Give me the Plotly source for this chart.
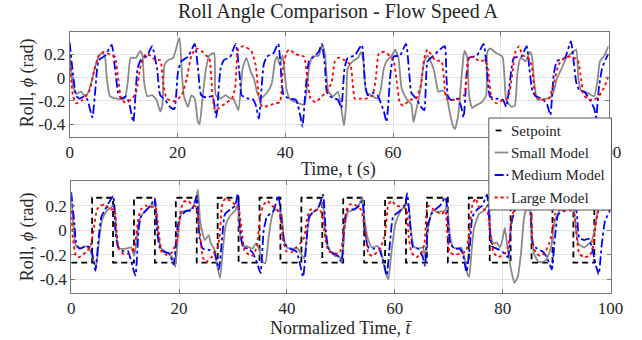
import plotly.graph_objects as go

# ---------------- data: top panel (time, s) ----------------
t_top_medium = [0, 1.2, 1.8, 2.7, 3.3, 4.2, 5.1, 5.4, 6.6, 7.8, 8.4, 9.0, 9.6, 10.5, 11.1, 11.8, 12.6, 13.2, 14.4, 15.3,
                16.2, 16.8, 17.7, 18.6, 19.4, 20.1, 20.7, 21.96, 23.2, 23.8, 24.4, 25.3, 26.5, 27.2, 28.0, 28.6, 29.8, 30.8,
                31.6, 31.9, 33.1, 33.9, 34.5, 35.1, 36.0, 36.6, 37.8, 38.7, 39.3, 39.7, 40.8, 42.0, 42.9, 43.2, 43.8, 44.4,
                45.3, 46.2, 46.8, 47.4, 47.7, 48.3, 49.2, 49.8, 50.4, 51.0, 51.6, 52.9, 54.2, 54.8, 55.3, 56.2, 57.1, 58.3,
                58.8, 59.5, 60.1, 61.3, 62.4, 63.1, 63.4, 64.3, 65.2, 65.8, 66.4, 67.3, 68.7, 69.6, 69.9, 70.2, 70.8, 72.0,
                72.6, 73.1, 73.7, 74.1, 75.6, 76.8, 77.4, 78.0, 79.2, 80.4, 81.0, 82.0, 82.4, 83.8, 84.8, 85.3, 85.9, 86.5,
                87.7, 88.6, 89.2, 89.8, 90.4, 91.9, 93.0, 93.6, 94.0, 94.6, 95.5, 96.4, 97.3, 97.7, 98.2, 98.8, 99.7, 100]
phi_top_medium = [0.30, -0.15, -0.18, -0.16, -0.19, -0.34, 0.08, 0.15, 0.19, 0.28, 0.08, -0.13, -0.18, -0.16, -0.23, -0.38,
                  0.08, 0.15, 0.19, 0.27, 0.08, -0.15, -0.19, -0.25, -0.27, 0.05, 0.14, 0.18, 0.29, 0.08, -0.15, -0.17,
                  -0.16, -0.34, 0.08, 0.15, 0.18, 0.29, -0.01, -0.15, -0.18, -0.18, -0.23, -0.35, 0.11, 0.18, 0.21, 0.29,
                  -0.01, -0.15, -0.18, -0.19, -0.35, -0.42, -0.09, 0.14, 0.18, 0.22, 0.29, 0.08, -0.12, -0.16, -0.18, -0.19,
                  -0.26, 0.08, 0.17, 0.19, 0.28, -0.04, -0.15, -0.13, -0.15, -0.29, -0.38, 0.02, 0.18, 0.19, 0.29, -0.01,
                  -0.13, -0.18, -0.25, -0.28, 0.14, 0.18, 0.24, 0.27, 0.02, -0.16, -0.19, -0.18, -0.24, -0.34, 0.05, 0.17,
                  0.19, 0.29, 0.08, -0.16, -0.18, -0.19, -0.25, 0.08, 0.17, 0.18, 0.27, 0.08, -0.12, -0.16, -0.18, -0.23,
                  -0.32, 0.02, 0.14, 0.17, 0.31, 0.11, -0.04, -0.11, -0.12, -0.18, -0.26, -0.34, -0.09, 0.08, 0.18, 0.20]

t_top_large = [0, 0.6, 1.2, 2.4, 3.6, 4.5, 5.4, 6.3, 7.8, 8.4, 9.0, 9.6, 10.2, 11.4, 12.3, 13.2, 14.1, 15.0, 15.9, 16.8,
               17.4, 18.0, 19.5, 20.8, 21.7, 22.6, 23.5, 24.7, 25.3, 25.9, 26.5, 27.0, 27.7, 28.9, 30.1, 30.7, 31.3, 32.2,
               33.7, 34.5, 35.1, 35.7, 36.9, 38.1, 39.0, 39.6, 40.2, 40.7, 41.7, 42.6, 43.5, 44.1, 44.7, 45.6, 46.8, 47.7,
               48.6, 49.2, 49.8, 51.0, 52.1, 52.6, 52.9, 54.1, 55.0, 56.2, 56.8, 57.4, 58.6, 59.5, 60.1, 60.7, 61.3, 61.9,
               63.1, 64.3, 65.2, 65.8, 66.4, 67.3, 67.8, 69.0, 69.6, 69.9, 71.1, 72.3, 73.2, 73.7, 74.1, 75.0, 76.2, 77.1,
               77.7, 78.3, 79.2, 80.4, 81.3, 82.1, 82.7, 83.4, 84.0, 84.9, 85.7, 86.2, 86.5, 87.7, 88.9, 89.8, 90.7, 91.9,
               93.1, 94.3, 94.9, 95.4, 96.4, 97.3, 98.2, 99.1, 100]
phi_top_large = [0.14, -0.15, -0.22, -0.19, -0.12, 0.05, 0.19, 0.22, 0.19, 0.18, -0.01, -0.19, -0.21, -0.19, -0.13, 0.11,
                 0.20, 0.19, 0.15, 0.15, -0.06, -0.18, -0.20, -0.15, -0.01, 0.19, 0.25, 0.22, 0.19, 0.17, -0.15, -0.28,
                 -0.26, -0.22, -0.18, -0.09, 0.25, 0.27, 0.23, 0.11, -0.15, -0.25, -0.24, -0.22, -0.21, 0.08, 0.21, 0.24,
                 0.21, 0.19, 0.18, -0.01, -0.18, -0.21, -0.16, -0.12, -0.04, 0.14, 0.17, 0.15, 0.11, -0.09, -0.18, -0.18,
                 -0.18, -0.15, -0.01, 0.21, 0.22, 0.18, 0.15, -0.04, -0.22, -0.24, -0.19, -0.18, -0.06, 0.17, 0.24, 0.18,
                 0.15, 0.14, -0.09, -0.18, -0.19, -0.18, -0.15, 0.05, 0.18, 0.17, 0.14, 0.15, 0.05, -0.18, -0.22, -0.19,
                 -0.18, 0.02, 0.22, 0.27, 0.19, 0.18, 0.11, -0.09, -0.16, -0.19, -0.18, -0.06, 0.11, 0.17, 0.18, 0.15,
                 -0.01, -0.15, -0.19, -0.19, -0.16, -0.09, 0.01]

t_top_small = [0, 0.6, 1.2, 2.1, 2.7, 3.3, 4.2, 4.8, 5.4, 5.9, 6.5, 6.9, 7.5, 8.7, 10.2, 10.8, 11.3, 12.3, 13.1, 13.5,
               13.8, 14.4, 15.3, 16.1, 16.8, 17.2, 17.6, 18.3, 19.2, 20.1, 20.4, 20.8, 21.2, 21.96, 22.6, 23.2, 23.8, 24.1,
               24.7, 25.3, 25.9, 26.8, 27.1, 28.0, 28.9, 29.8, 30.4, 31.3, 32.1, 32.8, 33.6, 34.2, 34.8, 35.4, 36.6, 37.5,
               38.1, 38.5, 39.0, 39.5, 40.2, 40.8, 42.0, 43.5, 44.4, 45.0, 46.2, 46.9, 47.4, 48.0, 48.9, 49.8, 50.4, 50.9,
               51.3, 51.6, 52.5, 53.5, 54.1, 54.5, 55.0, 55.9, 57.1, 57.7, 58.3, 58.9, 59.8, 60.4, 61.0, 61.6, 62.5, 63.4,
               63.8, 64.3, 64.9, 65.8, 66.4, 67.5, 68.1, 68.4, 69.3, 69.9, 70.5, 71.1, 71.5, 72.1, 72.6, 73.1, 73.3, 73.8,
               74.1, 74.7, 75.3, 76.5, 77.3, 77.5, 78.0, 79.2, 80.3, 80.7, 81.0, 82.0, 82.6, 83.1, 83.7, 84.6, 85.4, 85.8,
               86.2, 86.8, 88.3, 89.2, 89.8, 90.4, 91.3, 92.2, 93.4, 94.0, 94.4, 94.9, 96.1, 97.3, 97.9, 98.4, 99.1, 99.7,
               100]
phi_top_small = [0.19, -0.06, -0.14, -0.12, -0.15, -0.14, -0.01, 0.11, 0.18, 0.21, 0.19, -0.01, -0.16, -0.18, -0.18, -0.03,
                 0.17, 0.17, 0.23, 0.19, -0.03, -0.16, -0.15, -0.19, -0.29, -0.23, 0.11, 0.15, 0.17, 0.31, 0.34, 0.05,
                 -0.16, -0.25, -0.15, -0.18, -0.38, -0.40, -0.15, 0.08, 0.19, 0.21, -0.15, -0.18, -0.15, -0.18, -0.18,
                 -0.28, 0.08, 0.17, 0.05, -0.01, -0.13, -0.18, -0.13, -0.05, 0.14, 0.18, 0.11, 0.19, -0.09, -0.18, -0.21,
                 -0.23, 0.08, 0.18, 0.19, 0.28, 0.19, -0.12, -0.16, -0.12, -0.26, -0.41, -0.23, 0.08, 0.14, 0.17, 0.22,
                 0.14, -0.12, -0.15, -0.18, -0.11, 0.08, 0.15, 0.19, 0.24, 0.17, -0.09, -0.18, -0.23, -0.38, -0.28, -0.15,
                 0.14, 0.19, 0.08, -0.06, -0.12, -0.11, -0.15, -0.29, -0.41, -0.44, -0.32, -0.06, 0.19, 0.23, 0.17, -0.15,
                 -0.26, -0.24, -0.21, -0.15, 0.22, 0.25, 0.21, 0.18, -0.01, -0.19, -0.25, -0.24, 0.05, 0.17, 0.14, 0.22,
                 0.18, -0.04, -0.19, -0.18, -0.17, -0.12, -0.01, 0.08, 0.17, 0.22, 0.24, -0.01, -0.11, -0.13, -0.16,
                 -0.04, 0.14, 0.18, 0.24, 0.27]

# ---------------- data: bottom panel (normalized time) ----------------
tn_setpoint = [0, 3.88, 7.76, 11.64, 15.52, 19.40, 23.28, 27.16, 31.04, 34.92, 38.80, 42.68, 46.56, 50.44, 54.32,
               58.20, 62.08, 65.96, 69.84, 73.72, 77.60, 81.48, 85.36, 89.24, 93.12, 97.00, 100]
phi_setpoint = [-0.265, 0.265, -0.265, 0.265, -0.265, 0.265, -0.265, 0.265, -0.265, 0.265, -0.265, 0.265, -0.265,
                0.265, -0.265, 0.265, -0.265, 0.265, -0.265, 0.265, -0.265, 0.265, -0.265, 0.265, -0.265, 0.265, 0.265]

tn_medium = [0, 0.6, 0.9, 1.5, 2.7, 3.6, 4.2, 4.5, 5.1, 5.6, 6.3, 7.2, 7.8, 8.2, 8.7, 9.6, 10.5, 11.1, 11.9, 12.5, 12.9,
             13.8, 14.7, 15.5, 15.9, 16.5, 17.4, 18.2, 19.0, 19.7, 20.2, 21.4, 22.3, 23.0, 23.3, 23.8, 24.4, 25.6, 26.5,
             27.1, 27.4, 28.0, 28.5, 29.5, 30.4, 30.9, 31.3, 31.9, 32.8, 33.6, 34.5, 35.1, 35.7, 36.3, 37.5, 38.4, 39.0,
             39.6, 40.5, 41.7, 42.3, 43.0, 43.6, 44.1, 45.0, 45.9, 46.7, 47.2, 47.7, 48.6, 49.5, 50.1, 50.7, 51.3, 52.5,
             53.4, 54.0, 54.4, 55.1, 56.1, 57.0, 58.0, 58.5, 59.1, 59.7, 61.0, 61.9, 62.3, 62.9, 63.4, 64.3, 65.2, 65.6,
             66.2, 66.9, 67.5, 68.4, 69.4, 69.9, 70.3, 71.1, 72.0, 72.6, 73.3, 73.95, 74.4, 75.3, 76.2, 77.1, 77.6, 78.0,
             78.9, 80.1, 81.0, 81.6, 82.5, 83.6, 84.6, 85.2, 85.6, 86.4, 87.6, 88.5, 89.1, 89.7, 90.3, 91.5, 92.7, 93.3,
             93.8, 94.2, 95.1, 96.0, 96.6, 97.2, 97.8, 98.4, 99.0, 99.9, 100]
phin_medium = [0.31, 0.05, -0.10, -0.15, -0.13, -0.14, -0.26, -0.33, -0.06, 0.11, 0.17, 0.24, 0.28, 0.0, -0.14, -0.17,
               -0.17, -0.25, -0.37, 0.0, 0.11, 0.16, 0.20, 0.26, 0.0, -0.15, -0.18, -0.19, -0.28, 0.02, 0.11, 0.16, 0.16,
               0.24, 0.28, -0.06, -0.15, -0.16, -0.18, -0.27, -0.32, -0.06, 0.13, 0.17, 0.20, 0.30, 0.02, -0.14, -0.15,
               -0.18, -0.27, -0.35, 0.0, 0.11, 0.16, 0.28, 0.08, -0.11, -0.15, -0.17, -0.25, -0.38, -0.11, 0.11, 0.15,
               0.19, 0.29, 0.0, -0.15, -0.19, -0.21, -0.26, 0.08, 0.17, 0.17, 0.20, 0.24, 0.0, -0.14, -0.15, -0.15, -0.27,
               -0.37, -0.11, 0.11, 0.16, 0.21, 0.30, 0.02, -0.14, -0.15, -0.22, -0.29, 0.05, 0.14, 0.17, 0.20, 0.27, 0.05,
               -0.11, -0.15, -0.15, -0.19, -0.34, -0.11, 0.11, 0.17, 0.20, 0.29, 0.02, -0.13, -0.15, -0.18, -0.22, 0.05,
               0.19, 0.21, 0.27, 0.13, -0.11, -0.15, -0.18, -0.25, -0.32, -0.06, 0.13, 0.16, 0.21, 0.26, 0.11, -0.06,
               -0.08, -0.07, -0.15, -0.27, -0.36, -0.11, 0.08, 0.16, 0.22]

tn_large = [0, 0.3, 0.9, 1.5, 2.7, 3.6, 4.2, 4.8, 5.4, 6.3, 7.2, 8.0, 8.4, 8.8, 9.6, 10.8, 11.7, 12.3, 12.9, 13.8, 14.7,
            15.6, 16.2, 16.8, 17.7, 18.7, 19.6, 20.2, 20.8, 21.7, 22.6, 23.2, 23.8, 24.4, 25.0, 26.2, 27.1, 27.5, 28.0,
            28.6, 29.5, 30.4, 31.0, 31.6, 32.2, 33.4, 33.9, 34.5, 35.1, 35.7, 36.4, 37.2, 38.1, 38.7, 39.3, 39.9, 40.8,
            41.7, 42.6, 43.2, 43.8, 44.4, 45.3, 46.0, 46.5, 47.1, 47.7, 48.9, 49.8, 50.4, 51.0, 51.6, 52.5, 53.7, 54.6,
            55.1, 55.8, 56.7, 57.3, 58.2, 58.8, 59.4, 60.3, 61.6, 62.2, 62.6, 63.1, 64.0, 64.9, 65.5, 66.1, 66.9, 67.5,
            68.7, 69.4, 69.7, 70.2, 71.1, 72.3, 73.2, 73.8, 74.4, 75.0, 75.6, 76.5, 77.1, 77.7, 78.3, 79.2, 80.4, 81.0,
            81.3, 81.8, 82.5, 83.5, 84.5, 85.2, 85.5, 86.1, 87.0, 87.9, 88.6, 89.1, 89.7, 90.3, 91.5, 92.7, 93.3, 93.8,
            94.2, 95.1, 96.0, 96.6, 97.2, 97.8, 99.0, 100]
phin_large = [0.16, -0.06, -0.21, -0.22, -0.18, -0.13, 0.02, 0.17, 0.20, 0.21, 0.17, 0.17, 0.0, -0.15, -0.19, -0.19,
              -0.14, 0.05, 0.17, 0.20, 0.19, 0.19, 0.0, -0.18, -0.20, -0.18, -0.08, 0.13, 0.23, 0.24, 0.20, 0.19, 0.0,
              -0.22, -0.26, -0.21, -0.15, -0.06, 0.21, 0.26, 0.24, 0.21, 0.19, 0.0, -0.17, -0.21, -0.20, -0.11, 0.13,
              0.21, 0.24, 0.20, 0.17, 0.13, -0.08, -0.17, -0.18, -0.14, -0.10, -0.06, 0.11, 0.17, 0.16, 0.17, 0.13,
              -0.06, -0.17, -0.19, -0.18, -0.08, 0.16, 0.21, 0.21, 0.17, -0.03, -0.19, -0.21, -0.18, -0.15, -0.03, 0.21,
              0.24, 0.20, 0.19, 0.16, -0.06, -0.18, -0.22, -0.19, -0.11, 0.20, 0.18, 0.16, 0.13, 0.16, 0.0, -0.18,
              -0.20, -0.19, -0.17, -0.03, 0.21, 0.26, 0.19, 0.17, 0.16, 0.0, -0.18, -0.22, -0.19, -0.14, -0.06, 0.13,
              0.18, 0.19, 0.18, 0.13, -0.08, -0.18, -0.21, -0.18, -0.11, -0.03, 0.13, 0.17, 0.16, 0.16, 0.13, -0.08,
              -0.19, -0.22, -0.21, -0.17, 0.02, 0.16, 0.17, 0.16]

tn_small = [0, 0.4, 0.9, 1.8, 2.7, 3.3, 3.9, 4.6, 5.1, 5.7, 6.6, 7.5, 8.0, 8.4, 9.0, 10.2, 11.1, 11.7, 12.5, 13.2, 14.1,
            15.0, 15.6, 16.1, 16.7, 17.7, 18.7, 19.3, 19.9, 20.5, 21.7, 22.6, 23.2, 23.5, 23.9, 24.4, 24.8, 25.5, 25.9,
            26.5, 27.1, 27.6, 28.1, 28.7, 29.5, 30.4, 30.9, 31.3, 31.9, 32.5, 33.6, 34.2, 34.8, 35.4, 36.0, 36.6, 37.2,
            37.8, 38.4, 39.0, 39.4, 39.9, 41.1, 42.0, 42.6, 43.2, 43.8, 44.4, 45.6, 46.4, 46.8, 47.2, 47.8, 48.9, 49.8,
            50.2, 50.7, 51.3, 52.5, 53.4, 54.0, 54.4, 55.1, 55.8, 56.7, 57.3, 58.2, 58.8, 59.4, 60.1, 61.0, 61.9, 62.5,
            63.0, 63.5, 64.3, 65.2, 65.6, 66.2, 67.0, 68.1, 69.3, 69.7, 70.2, 70.8, 71.7, 72.3, 72.9, 73.5, 73.8, 74.2,
            74.7, 75.6, 76.5, 77.4, 77.7, 78.3, 78.9, 79.5, 80.0, 80.4, 80.8, 81.6, 82.2, 82.8, 83.4, 84.0, 84.6, 85.0,
            85.4, 85.8, 86.7, 87.9, 88.6, 89.1, 89.7, 90.6, 91.8, 93.0, 93.6, 94.05, 95.1, 96.0, 96.6, 97.1, 97.8, 99.0,
            100]
phin_small = [0.27, 0.05, -0.13, -0.15, -0.13, -0.15, -0.21, -0.30, -0.11, 0.08, 0.16, 0.19, 0.21, -0.06, -0.15, -0.15,
              -0.14, -0.21, 0.05, 0.13, 0.17, 0.21, 0.20, -0.03, -0.15, -0.18, -0.22, -0.30, 0.0, 0.15, 0.16, 0.19,
              0.27, 0.33, 0.08, -0.03, -0.08, -0.04, -0.11, -0.15, -0.30, -0.39, -0.17, 0.05, 0.12, 0.16, 0.21, -0.03,
              -0.13, -0.13, -0.15, -0.11, -0.15, -0.25, -0.27, -0.06, 0.11, 0.17, 0.16, 0.13, -0.06, -0.14, -0.15,
              -0.15, -0.19, -0.23, 0.0, 0.13, 0.17, 0.23, 0.17, -0.06, -0.15, -0.21, -0.22, -0.25, 0.02, 0.15, 0.17,
              0.21, 0.27, 0.08, -0.08, -0.14, -0.13, -0.15, -0.33, -0.40, -0.17, 0.05, 0.15, 0.20, 0.21, 0.0, -0.13,
              -0.15, -0.14, -0.22, 0.02, 0.16, 0.15, 0.16, 0.21, -0.03, -0.14, -0.15, -0.14, -0.22, -0.36, -0.38,
              -0.19, 0.02, 0.13, 0.16, 0.21, -0.03, -0.11, -0.10, -0.14, -0.07, 0.02, -0.11, -0.33, -0.43, -0.38,
              -0.19, 0.11, 0.20, 0.20, -0.03, -0.19, -0.26, -0.25, -0.19, -0.11, 0.08, 0.16, 0.17, 0.21, 0.0, -0.11,
              -0.14, -0.11, -0.08, 0.02, 0.19, 0.23, 0.27]

x_ticks = [0, 20, 40, 60, 80, 100]
y_ticks = [-0.4, -0.2, 0, 0.2]
y_ticktext = ["-0.4", "-0.2", "0", "0.2"]
legend_names = ["Setpoint", "Small Model", "Medium Model", "Large Model"]

SERIF = "Liberation Serif, Times New Roman, serif"
TXT = "#262626"
GRAY = "#8a8a8a"
BLUE = "#0000ff"
RED = "#ff0000"
LW = 1.8
styles = [dict(color="black", width=LW, dash="6px,4px"),
          dict(color=GRAY, width=LW),
          dict(color=BLUE, width=LW, dash="dashdot"),
          dict(color=RED, width=LW, dash="dot")]

fig = go.Figure()

# bottom panel
fig.add_trace(go.Scatter(x=tn_setpoint, y=phi_setpoint, xaxis="x2", yaxis="y2", mode="lines", name=legend_names[0],
                         line=dict(styles[0], shape="hv")))
for tx, ph, k in [(tn_small, phin_small, 1), (tn_medium, phin_medium, 2), (tn_large, phin_large, 3)]:
    fig.add_trace(go.Scatter(x=tx, y=ph, xaxis="x2", yaxis="y2", mode="lines", name=legend_names[k],
                             line=dict(styles[k], shape="spline", smoothing=0.5)))
# top panel
for tx, ph, k in [(t_top_small, phi_top_small, 1), (t_top_medium, phi_top_medium, 2), (t_top_large, phi_top_large, 3)]:
    fig.add_trace(go.Scatter(x=tx, y=ph, xaxis="x", yaxis="y", mode="lines", name=legend_names[k],
                             line=dict(styles[k], shape="spline", smoothing=0.5)))

axis_common = dict(showline=True, linecolor="#777777", linewidth=1, mirror="allticks", ticks="inside", ticklen=4,
                   tickcolor="#777777", showgrid=True, gridcolor="#e3e3e3", gridwidth=1, zeroline=False,
                   tickfont=dict(family=SERIF, size=17, color=TXT))

W, H = 642, 340
px = lambda v: v / W
py = lambda v: 1 - v / H

# legend box drawn by hand (compact MATLAB-style legend)
shapes = [dict(type="rect", xref="paper", yref="paper", x0=px(498), x1=px(624), y0=py(210), y1=py(118),
               fillcolor="white", line=dict(color="#555555", width=1), layer="above")]
row_y = [130.5, 152.5, 175, 197.5]
annotations = []
for k, name in enumerate(legend_names):
    x0, x1 = (505, 511) if k == 0 else (504, 518)
    shapes.append(dict(type="line", xref="paper", yref="paper", x0=px(x0), x1=px(x1), y0=py(row_y[k]),
                       y1=py(row_y[k]), line=styles[k] if k else dict(color="black", width=LW), layer="above"))
    annotations.append(dict(text=name, x=px(519), y=py(row_y[k]), xref="paper", yref="paper", showarrow=False,
                            xanchor="left", yanchor="middle", font=dict(family=SERIF, size=15, color=TXT)))

annotations += [
    dict(text="Roll Angle Comparison - Flow Speed A", x=px(344), y=py(12), xref="paper", yref="paper",
         showarrow=False, font=dict(family=SERIF, size=20, color=TXT), xanchor="center", yanchor="middle"),
    dict(text="Time, t (s)", x=px(344), y=py(169), xref="paper", yref="paper",
         showarrow=False, font=dict(family=SERIF, size=18, color=TXT), xanchor="center", yanchor="middle"),
    dict(text="Normalized Time, <i>t\u0304</i>", x=px(347), y=py(328), xref="paper", yref="paper",
         showarrow=False, font=dict(family=SERIF, size=18, color=TXT), xanchor="center", yanchor="middle"),
    dict(text="Roll, <i>\u03d5</i> (rad)", x=px(24), y=py(83), xref="paper", yref="paper", textangle=-90,
         showarrow=False, font=dict(family=SERIF, size=18, color=TXT), xanchor="center", yanchor="middle"),
    dict(text="Roll, <i>\u03d5</i> (rad)", x=px(24), y=py(237), xref="paper", yref="paper", textangle=-90,
         showarrow=False, font=dict(family=SERIF, size=18, color=TXT), xanchor="center", yanchor="middle"),
]

fig.update_layout(
    width=W, height=H,
    margin=dict(l=0, r=0, t=0, b=0),
    paper_bgcolor="white", plot_bgcolor="white",
    showlegend=False,
    xaxis=dict(domain=[0.1051, 0.9673], range=[0, 100], tickvals=x_ticks, anchor="y", **axis_common),
    yaxis=dict(domain=[0.598, 0.9068], range=[-0.506, 0.394], tickvals=y_ticks, ticktext=y_ticktext,
               anchor="x", **axis_common),
    xaxis2=dict(domain=[0.1075, 0.9704], range=[0, 100], tickvals=x_ticks, anchor="y2", **axis_common),
    yaxis2=dict(domain=[0.139, 0.4685], range=[-0.51, 0.404], tickvals=y_ticks, ticktext=y_ticktext,
                anchor="x2", **axis_common),
    shapes=shapes,
    annotations=annotations,
)

fig.write_html("out.html")
